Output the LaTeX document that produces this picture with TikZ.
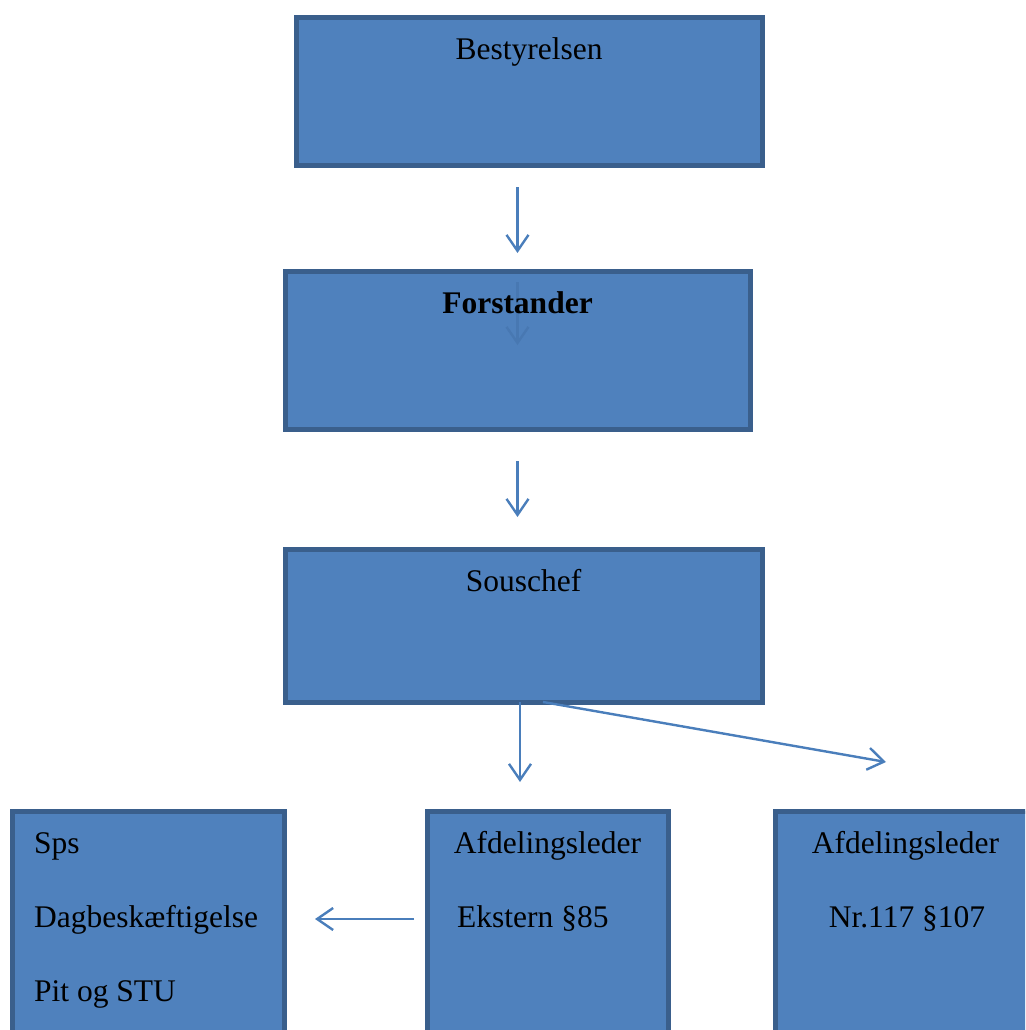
\documentclass[tikz,border=0pt]{standalone}
\usepackage{fontspec}
\setmainfont{Liberation Serif}
\usetikzlibrary{arrows.meta}
\definecolor{boxfill}{HTML}{4F81BD}
\definecolor{boxline}{HTML}{3A5F8C}
\definecolor{arrline}{HTML}{4A7EBB}
\definecolor{faintline}{HTML}{4878B2}
\begin{document}
\begin{tikzpicture}[x=1pt,y=-1pt,
  box/.style={draw=boxline,fill=boxfill,line width=5pt,rectangle,outer sep=0pt,inner sep=0pt},
  txt/.style={inner sep=0pt,font=\fontsize{31.5}{38}\selectfont},
  arr/.style={draw=arrline,line width=2.4pt,-{Straight Barb[length=16pt,width=22pt]}},
  faintarr/.style={draw=faintline,line width=2.4pt,-{Straight Barb[length=16pt,width=22pt]}}]
  \useasboundingbox (0,0) rectangle (1025,1030);
  \clip (0,0) rectangle (1025,1030);

  % bokse
  \node[box,minimum width=466pt,minimum height=147pt] (best) at (529,91.5) {};
  \node[box,minimum width=465pt,minimum height=158pt] (forst) at (517.5,350) {};
  \node[box,minimum width=477pt,minimum height=153pt] (sous) at (523.5,625.5) {};
  \node[box,minimum width=272pt,minimum height=240pt] (sps) at (148,931) {};
  \node[box,minimum width=241pt,minimum height=240pt] (ekst) at (547.5,931) {};
  \node[box,minimum width=300pt,minimum height=240pt] (nr) at (925,931) {};

  % tekster
  \node[txt,anchor=base] (bestT) at ([yshift=-42pt]best.north) {Bestyrelsen};
  \draw[faintarr] ([yshift=-11pt]forst.north) -- ([yshift=-74pt]forst.north);
  \node[txt,anchor=base,font=\fontsize{31.5}{38}\selectfont\bfseries] (forstT) at ([yshift=-42pt]forst.north) {Forstander};
  \node[txt,anchor=base] (sousT) at ([yshift=-42pt]sous.north) {Souschef};
  \node[txt,anchor=base west] (spsA) at ([xshift=22pt,yshift=-42pt]sps.north west) {Sps};
  \node[txt,anchor=base west] (spsB) at ([yshift=-74pt]spsA.base west) {Dagbesk\ae ftigelse};
  \node[txt,anchor=base west] (spsC) at ([yshift=-74pt]spsB.base west) {Pit og STU};
  \node[txt,anchor=base] (ekstA) at ([yshift=-42pt]ekst.north) {Afdelingsleder};
  \node[txt,anchor=base west] (ekstB) at ([xshift=30pt,yshift=-116pt]ekst.north west) {Ekstern §85};
  \node[txt,anchor=base] (nrA) at ([xshift=130.5pt,yshift=-42pt]nr.north west) {Afdelingsleder};
  \node[txt,anchor=base] (nrB) at ([xshift=1.5pt,yshift=-74pt]nrA.base) {Nr.117 §107};

  % pile
  \coordinate (diagend) at (886,762);
  \draw[arr,shorten <=22pt,shorten >=18pt] (best.south -| forst.north) -- (forst.north);
  \draw[arr,shorten <=32pt,shorten >=32pt] (forst.south) -- (forst.south |- sous.north);
  \draw[arr,shorten >=29pt] ([xshift=-3.5pt]sous.south) -- ([xshift=-3.5pt]sous.south |- ekst.north);
  \draw[arr] ([xshift=19.5pt]sous.south) -- (diagend);
  \draw[arr,shorten <=13pt,shorten >=31pt] ([yshift=12pt]ekst.west) -- ([yshift=12pt]sps.east);
\end{tikzpicture}
\end{document}
